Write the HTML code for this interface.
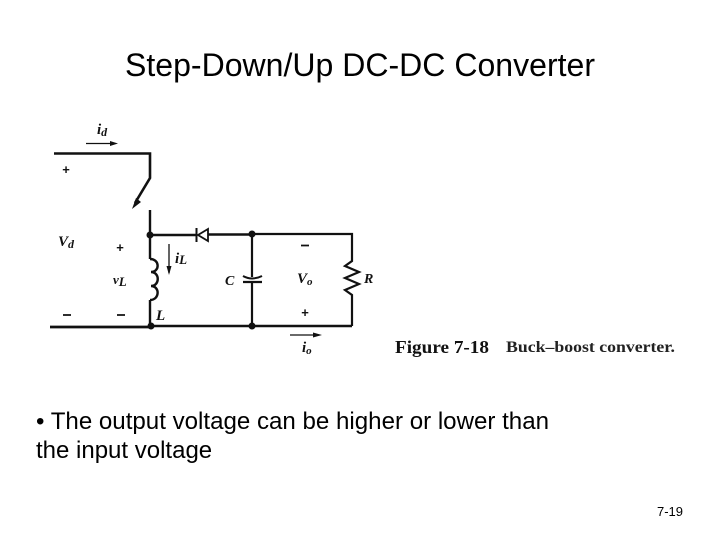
<!DOCTYPE html>
<html>
<head>
<meta charset="utf-8">
<style>
html,body{margin:0;padding:0;background:#fff;}
svg{display:block;}
.s{font-family:"Liberation Serif",serif;font-style:italic;font-weight:bold;fill:#111;}
.p{font-family:"Liberation Sans",sans-serif;font-weight:bold;fill:#111;}
</style>
</head>
<body>
<svg width="720" height="540" viewBox="0 0 720 540" xmlns="http://www.w3.org/2000/svg">
<rect width="720" height="540" fill="#fff"/>
<text x="360" y="76" text-anchor="middle" font-family="Liberation Sans, sans-serif" font-size="32" fill="#000" textLength="470" lengthAdjust="spacingAndGlyphs">Step-Down/Up DC-DC Converter</text>

<g fill="none" stroke="#111" stroke-linejoin="miter">
<path d="M54 153.500H150V178L135 203" stroke-width="2.600"/>
<path d="M150 210V326" stroke-width="2.400" stroke-dasharray="49 41 100"/>
<path d="M150 235H196M208 234.500H253" stroke-width="2.400"/>
<path d="M252 234H352V261L345 266L359 272L345 278L359 284L345 290L352 295V326" stroke-width="2.200"/>
<path d="M50 327H150" stroke-width="2.800"/>
<path d="M150 326H352" stroke-width="2.400"/>
<path d="M150 259C160 259 160 272 151 272C160 272 160 286 151 286C160 286 160 300 150 300" stroke-width="2.400"/>
<path d="M196.500 228V242" stroke-width="2"/>
<path d="M208 229L198 235L208 241Z" stroke-width="1.800"/>
<path d="M252 234V277M252 283V326" stroke-width="2.200"/>
<path d="M243 276Q252 281 262 276" stroke-width="2"/>
<path d="M243 282H262" stroke-width="2.200"/>
<path d="M86 143.500H112M290 335H318" stroke-width="1.200"/>
<path d="M169 244V273" stroke-width="1.300"/>
</g>
<g fill="#111">
<path d="M132 209L136 198L141 202Z"/>
<path d="M118 143.500L110 141V146Z"/>
<path d="M322 335L313 332.500V337.500Z"/>
<path d="M169 275L166.500 266H171.500Z"/>
<circle cx="150" cy="235" r="3.500"/>
<circle cx="151" cy="326" r="3.500"/>
<circle cx="252" cy="234" r="3.500"/>
<circle cx="252" cy="326" r="3.500"/>
</g>

<text class="s" x="97" y="134" font-size="15">i<tspan font-size="12" dy="2">d</tspan></text>
<text class="s" x="58" y="246" font-size="15">V<tspan font-size="12" dy="2">d</tspan></text>
<text class="s" x="113" y="284" font-size="13">v<tspan font-size="13" dy="2">L</tspan></text>
<text class="s" x="175" y="263" font-size="15">i<tspan font-size="13" dy="1">L</tspan></text>
<text class="s" x="156" y="320" font-size="15">L</text>
<text class="s" x="225" y="285" font-size="14">C</text>
<text class="s" x="297" y="283" font-size="15">V<tspan font-size="11" dy="2">o</tspan></text>
<text class="s" x="364" y="283" font-size="14">R</text>
<text class="s" x="302" y="352" font-size="15">i<tspan font-size="11" dy="2">o</tspan></text>

<text class="p" x="66" y="174" font-size="13" text-anchor="middle">+</text>
<text class="p" x="120" y="252" font-size="13" text-anchor="middle">+</text>
<text class="p" x="305" y="317" font-size="13" text-anchor="middle">+</text>
<g stroke="#111" stroke-width="1.800">
<path d="M63 315H71M117 315H125M301 245.500H309"/>
</g>

<text x="395" y="353" font-family="Liberation Serif, serif" font-weight="bold" font-size="18" fill="#111" textLength="94" lengthAdjust="spacingAndGlyphs">Figure 7-18</text>
<text x="506" y="352" font-family="Liberation Serif, serif" font-size="16" font-weight="bold" fill="#222" textLength="169" lengthAdjust="spacingAndGlyphs">Buck–boost converter.</text>

<text x="36" y="429" font-family="Liberation Sans, sans-serif" font-size="24" fill="#000" textLength="513" lengthAdjust="spacingAndGlyphs">• The output voltage can be higher or lower than</text>
<text x="36" y="458" font-family="Liberation Sans, sans-serif" font-size="24" fill="#000">the input voltage</text>
<text x="683" y="516" text-anchor="end" font-family="Liberation Sans, sans-serif" font-size="13" fill="#000">7-19</text>
</svg>
</body>
</html>
